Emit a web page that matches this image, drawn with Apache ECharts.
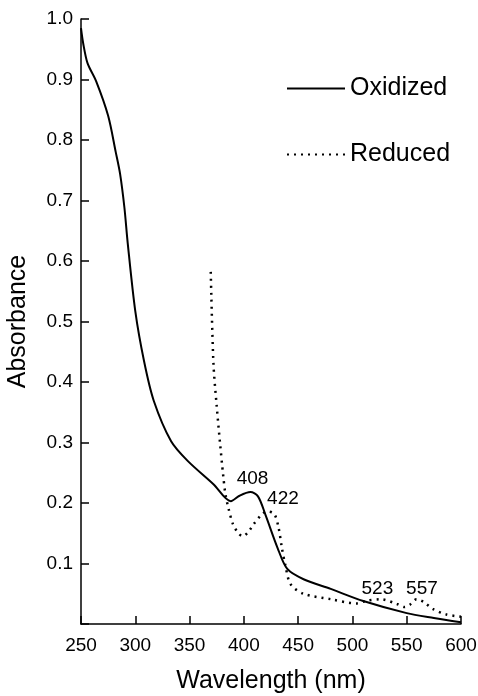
<!DOCTYPE html>
<html>
<head>
<meta charset="utf-8">
<script src="https://cdn.jsdelivr.net/npm/echarts@6/dist/echarts.min.js"></script>
<style>
  html, body { margin: 0; padding: 0; background: #fff; }
  #main { width: 478px; height: 696px; }
</style>
</head>
<body>
<div id="main"></div>
<script>
// wavelength (nm) / absorbance
const oxidizedWl = [250, 252, 256, 264, 275, 282, 286, 290, 293, 300, 308, 317, 333, 348, 372, 388, 396, 406, 413, 420, 431, 440, 455, 480, 510, 550, 575, 600]
const oxidizedAbs = [0.985, 0.96, 0.927, 0.897, 0.84, 0.78, 0.744, 0.688, 0.63, 0.517, 0.435, 0.369, 0.302, 0.27, 0.231, 0.203, 0.212, 0.218, 0.211, 0.18, 0.126, 0.091, 0.074, 0.058, 0.038, 0.018, 0.01, 0.003]

const reducedWl = [369.5, 372, 375, 378, 381, 383, 386, 390, 395, 399, 404, 409, 417, 422, 428, 432, 435, 438, 443, 455, 480, 504, 512, 526, 541, 548, 553, 559, 566, 574, 586, 600]
const reducedAbs = [0.582, 0.43, 0.36, 0.3, 0.245, 0.215, 0.19, 0.165, 0.15, 0.145, 0.152, 0.165, 0.182, 0.186, 0.182, 0.159, 0.126, 0.099, 0.066, 0.05, 0.041, 0.034, 0.038, 0.041, 0.033, 0.028, 0.032, 0.041, 0.036, 0.025, 0.016, 0.012]

// peak labels (placed next to the peaks)
const peakWl = [408, 436, 523, 564]
const peakAbs = [0.24, 0.207, 0.059, 0.059]
const peakText = ['408', '422', '523', '557']

const chart = echarts.init(document.getElementById('main'))

const font = 'Liberation Sans, Arial, sans-serif'

chart.setOption({
  animation: false,
  backgroundColor: '#fff',
  grid: { left: 81, right: 17, top: 19, bottom: 72, outerBoundsMode: 'none', containLabel: false },
  legend: {
    orient: 'vertical',
    left: 281,
    top: 71,
    itemWidth: 58,
    itemHeight: 14,
    itemGap: 41,
    itemStyle: { opacity: 0 },
    textStyle: { fontFamily: font, fontSize: 25, color: '#000' },
    data: ['Oxidized', 'Reduced']
  },
  xAxis: {
    type: 'value',
    min: 250,
    max: 600,
    interval: 50,
    name: 'Wavelength (nm)',
    nameLocation: 'middle',
    nameGap: 45,
    nameTextStyle: { fontFamily: font, fontSize: 25, color: '#000' },
    axisLine: { lineStyle: { color: '#000', width: 1.5 } },
    axisTick: { inside: true, length: 8, lineStyle: { color: '#000', width: 1.5 } },
    axisLabel: { fontFamily: font, fontSize: 19, color: '#000', margin: 12 },
    splitLine: { show: false }
  },
  yAxis: {
    type: 'value',
    min: 0,
    max: 1.0,
    interval: 0.1,
    name: 'Absorbance',
    nameLocation: 'middle',
    nameGap: 50,
    nameRotate: 90,
    nameTextStyle: { fontFamily: font, fontSize: 25, color: '#000' },
    axisLine: { show: true, lineStyle: { color: '#000', width: 1.5 } },
    axisTick: { show: true, inside: true, length: 8, lineStyle: { color: '#000', width: 1.5 } },
    axisLabel: {
      fontFamily: font, fontSize: 19, color: '#000', margin: 8,
      formatter: v => v === 0 ? '' : v.toFixed(1)
    },
    splitLine: { show: false }
  },
  series: [
    {
      name: 'Oxidized',
      type: 'line',
      smooth: 0.3,
      symbol: 'none',
      lineStyle: { color: '#000', width: 2 },
      itemStyle: { color: '#000' },
      data: oxidizedWl.map((w, i) => [w, oxidizedAbs[i]])
    },
    {
      name: 'Reduced',
      type: 'line',
      smooth: 0.3,
      symbol: 'none',
      lineStyle: { color: '#000', width: 2.5, type: [2, 5] },
      itemStyle: { color: '#000' },
      data: reducedWl.map((w, i) => [w, reducedAbs[i]])
    },
    {
      name: 'peaks',
      type: 'scatter',
      symbolSize: 1,
      itemStyle: { opacity: 0 },
      silent: true,
      label: {
        show: true,
        position: 'inside',
        fontFamily: font,
        fontSize: 19,
        color: '#000',
        opacity: 1,
        formatter: p => peakText[p.dataIndex]
      },
      data: peakWl.map((w, i) => [w, peakAbs[i]])
    }
  ]
})
</script>
</body>
</html>
